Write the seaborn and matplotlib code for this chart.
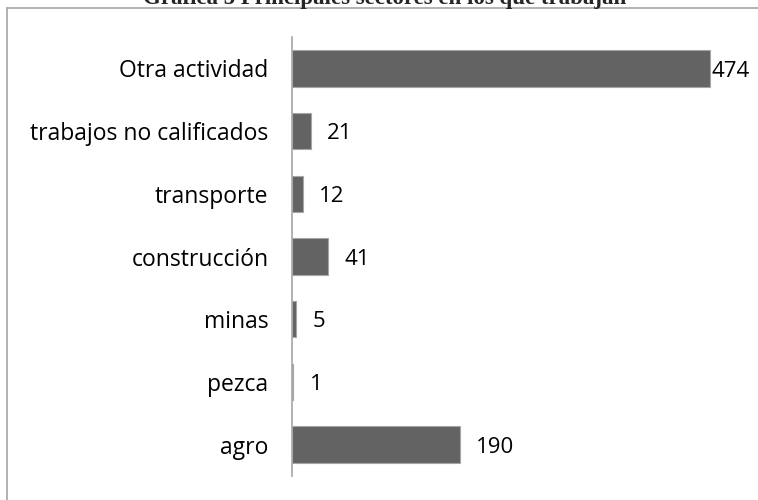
import matplotlib
matplotlib.use("Agg")
import matplotlib.pyplot as plt
import seaborn as sns
import pandas as pd
from matplotlib.lines import Line2D

# datos
sectores = ["Otra actividad", "trabajos no calificados", "transporte",
            "construcción", "minas", "pezca", "agro"]
personas = [474, 21, 12, 41, 5, 1, 190]
titulo = "Gráfica 5 Principales sectores en los que trabajan"

df = pd.DataFrame({"sector": sectores, "n": personas})

sns.set_style("white")
plt.rcParams["font.family"] = ["Open Sans", "DejaVu Sans"]

fig = plt.figure(figsize=(7.58, 5.0), dpi=100)
ax = fig.add_axes([292 / 758, 1 - 476 / 500, (733 - 292) / 758, (476 - 37) / 500])

sns.barplot(data=df, y="sector", x="n", orient="h", color="#636363",
            width=0.58, edgecolor="#a6a6a6", linewidth=0.8, saturation=1, ax=ax)

ax.set_xlim(0, 500)
ax.set_xlabel("")
ax.set_ylabel("")
ax.set_xticks([])
for s in ["top", "right", "bottom"]:
    ax.spines[s].set_visible(False)
ax.spines["left"].set_color("#a6a6a6")
ax.spines["left"].set_linewidth(1.2)
ax.tick_params(axis="y", length=0, pad=17, labelsize=16.5)
for t in ax.get_yticklabels():
    t.set_color("black")

# etiquetas de valor
for i, v in enumerate(personas):
    off = 1 if v == max(personas) else 12
    ax.annotate(str(v), xy=(v, i), xytext=(off, -2), textcoords="offset points",
                va="center", ha="left", fontsize=16, color="black")

# marco del gráfico
fig.add_artist(Line2D([7 / 758, 7 / 758], [0, 1 - 8 / 500], color="#a6a6a6", lw=1.2))
fig.add_artist(Line2D([7 / 758, 1], [1 - 8 / 500, 1 - 8 / 500], color="#a6a6a6", lw=1.2))

# título (recortado arriba, como en el original)
fig.text(385 / 758, 1 - 4 / 500, titulo, ha="center", va="baseline",
         family="Liberation Serif", weight="bold", fontsize=16.5)

fig.savefig("out.png", dpi=100)
